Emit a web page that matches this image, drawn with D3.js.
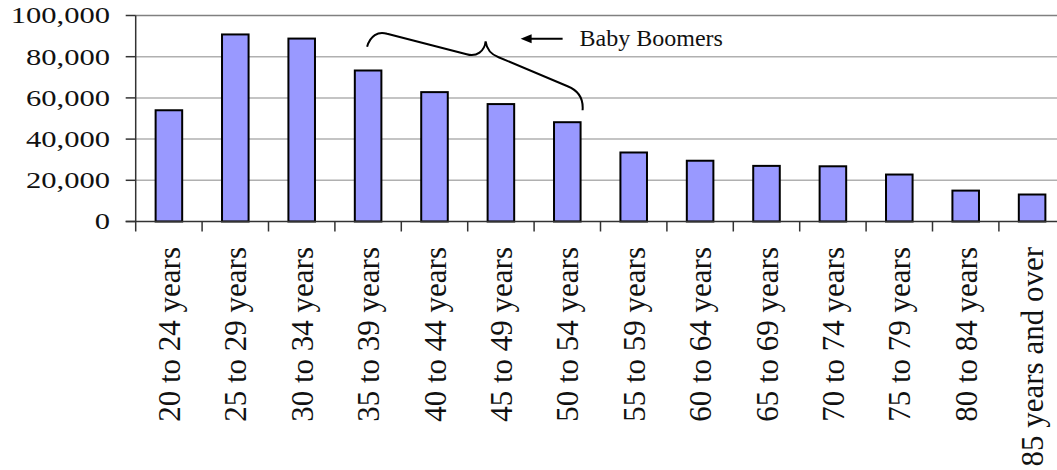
<!DOCTYPE html>
<html>
<head>
<meta charset="utf-8">
<script src="https://cdn.jsdelivr.net/npm/d3@7"></script>
<style>
  body { margin: 0; background: #fff; }
  svg { display: block; font-family: "Liberation Serif", "DejaVu Serif", serif; }
</style>
</head>
<body>
<svg id="svg"></svg>
<script>
const ageGroups = ['20 to 24 years', '25 to 29 years', '30 to 34 years', '35 to 39 years',
  '40 to 44 years', '45 to 49 years', '50 to 54 years', '55 to 59 years', '60 to 64 years',
  '65 to 69 years', '70 to 74 years', '75 to 79 years', '80 to 84 years', '85 years and over'];
const counts = [54000, 90800, 88800, 73300, 62800, 57000, 48200, 33500, 29500, 27000, 26800, 22800, 15000, 13100];
const yTicks = [0, 20000, 40000, 60000, 80000, 100000];
const boomers = ['35 to 39 years', '50 to 54 years'];

const width = 1057, height = 470;
// right edge runs past the window, like the original picture
const plot = { left: 135.7, right: 1065.3, top: 15.5, bottom: 221.5 };

const x = d3.scaleBand().domain(ageGroups).range([plot.left, plot.right]).paddingInner(0.6).paddingOuter(0.3);
const band = d3.scaleBand().domain(ageGroups).range([plot.left, plot.right]);
const y = d3.scaleLinear().domain([0, 100000]).range([plot.bottom, plot.top]);

const svg = d3.select('#svg').attr('width', width).attr('height', height);

// gridlines
svg.append('g')
  .selectAll('line')
  .data(yTicks.slice(1))
  .enter()
  .append('line')
    .attr('x1', plot.left).attr('x2', width)
    .attr('y1', d => y(d)).attr('y2', d => y(d))
    .attr('stroke', d => d === 100000 ? '#808080' : '#b0b0b0')
    .attr('stroke-width', 1.5);

// bars
svg.append('g')
  .selectAll('rect')
  .data(counts)
  .enter()
  .append('rect')
    .attr('x', (d, i) => x(ageGroups[i]))
    .attr('y', d => y(d))
    .attr('width', x.bandwidth())
    .attr('height', d => y(0) - y(d))
    .attr('fill', '#9999ff')
    .attr('stroke', '#000')
    .attr('stroke-width', 2);

// axes
const axisColor = '#333';
svg.append('line')
  .attr('x1', plot.left).attr('x2', plot.left)
  .attr('y1', plot.top).attr('y2', plot.bottom)
  .attr('stroke', axisColor).attr('stroke-width', 1.5);
svg.append('line')
  .attr('x1', plot.left - 10).attr('x2', width)
  .attr('y1', plot.bottom).attr('y2', plot.bottom)
  .attr('stroke', axisColor).attr('stroke-width', 1.5);

svg.append('g')
  .selectAll('line')
  .data(yTicks)
  .enter()
  .append('line')
    .attr('x1', plot.left - 10).attr('x2', plot.left)
    .attr('y1', d => y(d)).attr('y2', d => y(d))
    .attr('stroke', axisColor).attr('stroke-width', 1.5);

svg.append('g')
  .selectAll('line')
  .data(ageGroups)
  .enter()
  .append('line')
    .attr('x1', d => band(d)).attr('x2', d => band(d))
    .attr('y1', plot.bottom).attr('y2', plot.bottom + 10)
    .attr('stroke', axisColor).attr('stroke-width', 1.5);

// y tick labels (the original font is set wide)
svg.append('g')
  .selectAll('text')
  .data(yTicks)
  .enter()
  .append('text')
    .attr('transform', d => `translate(110,${y(d)}) scale(1.33,1)`)
    .attr('dy', '0.34em')
    .attr('text-anchor', 'end')
    .attr('font-size', '23px')
    .attr('fill', '#111')
    .text(d => d3.format(',')(d));

// rotated category labels
svg.append('g')
  .selectAll('text')
  .data(ageGroups)
  .enter()
  .append('text')
    .attr('transform', d => `translate(${band(d) + band.bandwidth() / 2 + 11},247) rotate(-90)`)
    .attr('text-anchor', 'end')
    .attr('font-size', '31px')
    .attr('fill', '#111')
    .text(d => d);

// Baby Boomers brace, slanted from the 35-39 bar to the 50-54 bar
const x0 = x(boomers[0]) + x.bandwidth() / 2 - 1;
const x1 = x(boomers[1]) + x.bandwidth() + 2;
const y0 = y(84800), y1 = y(54000);
const xm = x0 + (x1 - x0) * 0.55;
const ym = y(87500);
const brace = d3.path();
brace.moveTo(x0, y0);
brace.bezierCurveTo(x0 + 3, y0 - 11, x0 + 11, y0 - 16, x0 + 20, y0 - 13);
brace.lineTo(xm - 19, ym + 13);
brace.bezierCurveTo(xm - 9, ym + 16, xm - 1, ym + 10, xm, ym);
brace.bezierCurveTo(xm + 1, ym + 8, xm + 5, ym + 13, xm + 13, ym + 16);
brace.lineTo(x1 - 15, y1 - 24);
brace.bezierCurveTo(x1 - 5, y1 - 20, x1 + 1, y1 - 12, x1, y1);
svg.append('path')
  .attr('d', brace.toString())
  .attr('fill', 'none')
  .attr('stroke', '#000')
  .attr('stroke-width', 2);

// arrow and label
const arrowY = y(88700);
const arrowX = xm + 35;
svg.append('line')
  .attr('x1', arrowX + 8).attr('x2', arrowX + 42)
  .attr('y1', arrowY).attr('y2', arrowY)
  .attr('stroke', '#000').attr('stroke-width', 2);
svg.append('path')
  .attr('d', `M${arrowX},${arrowY} L${arrowX + 11},${arrowY - 4.5} L${arrowX + 11},${arrowY + 4.5} Z`)
  .attr('fill', '#000');
svg.append('text')
  .attr('x', arrowX + 59)
  .attr('y', y(85000))
  .attr('font-size', '24px')
  .attr('fill', '#111')
  .text('Baby Boomers');
</script>
</body>
</html>
